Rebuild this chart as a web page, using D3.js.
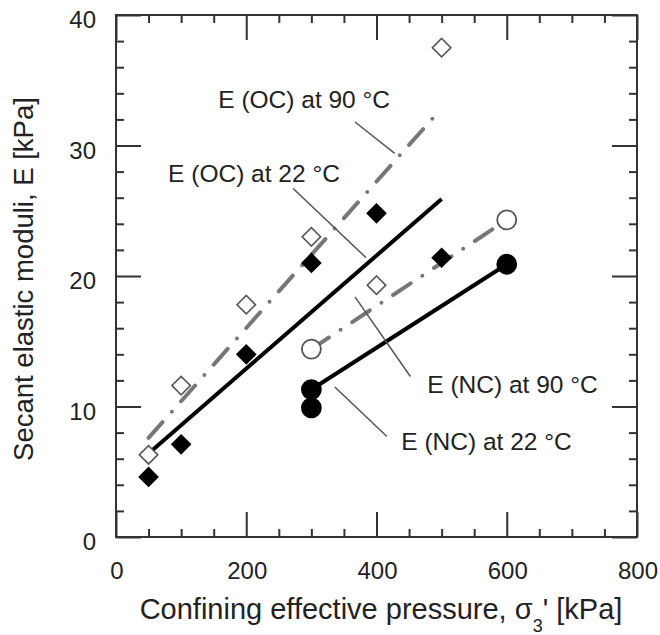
<html>
  <head>
    <script src="https://d3js.org/d3.v7.min.js"></script>
    <style>
      body { margin: 0; background: #fff; }
      svg { font-family: "Liberation Sans", Arial, sans-serif; }
      .tick-label { font-size: 24px; fill: #222; }
      .title { font-size: 27.5px; fill: #222; }
      .note { font-size: 24.5px; fill: #222; }
      .frame { fill: none; stroke: #333; stroke-width: 2; }
      .fit { fill: none; stroke-width: 4; }
      .leader { stroke: #555; stroke-width: 1.5; }
    </style>
  </head>
  <body>
    <div id="root"></div>
  <script>
// tick values
var xMajor = [0, 200, 400, 600, 800];
var xMinor = [50, 100, 150, 250, 300, 350, 450, 500, 550, 650, 700, 750];
var yMajor = [0, 10, 20, 30, 40];
var yMinor = [2, 4, 6, 8, 12, 14, 16, 18, 22, 24, 26, 28, 32, 34, 36, 38];

// OC samples (diamonds)
var pressureOC = [50, 100, 200, 300, 400, 500];
var eOC22 = [4.6, 7.1, 14.0, 21.0, 24.8, 21.4];
var eOC90 = [6.3, 11.6, 17.8, 23.0, 19.3, 37.5];

// NC samples (circles)
var pressureNC22 = [300, 300, 600];
var eNC22 = [11.3, 9.9, 20.9];
var pressureNC90 = [300, 600];
var eNC90 = [14.4, 24.3];

// trend lines [pressure, E]
var fitOC22 = [[50, 6.4], [500, 25.9]];
var fitOC90 = [[50, 7.6], [492, 32.4]];
var fitNC22 = [[300, 11.3], [600, 20.9]];
var fitNC90 = [[300, 14.4], [600, 24.3]];

// labels: text start and leader line, all in data units
var notes = [
  {text: "E (OC) at 90 \u00B0C", at: [157, 32.9], from: [367, 31.8], to: [428, 29.4]},
  {text: "E (OC) at 22 \u00B0C", at: [80, 27.2], from: [272, 26.7], to: [384, 21.4]},
  {text: "E (NC) at 90 \u00B0C", at: [478, 11.0], from: [367, 18.4], to: [452, 12.3]},
  {text: "E (NC) at 22 \u00B0C", at: [438, 6.7], from: [336, 11.5], to: [416, 7.7]}
];

var W = 660, H = 635;
var pL = 116, pR = 637, pT = 15, pB = 537;

var x = d3.scaleLinear().domain([0, 800]).range([pL, pR]);
var y = d3.scaleLinear().domain([0, 40]).range([pB, pT]);

var svg = d3.select("#root").append("svg")
  .attr("width", W)
  .attr("height", H);

svg.append("rect").attr("width", W).attr("height", H).attr("fill", "#fff");

/* ticks pointing inward on all four sides */
function ticks(axis, values, len, transform) {
  var g = svg.append("g")
    .attr("transform", transform)
    .call(axis.tickValues(values).tickSizeInner(-len).tickSizeOuter(0).tickFormat(""));
  g.select(".domain").remove();
  g.selectAll("line").attr("stroke", "#333").attr("stroke-width", 2);
  return g;
}
ticks(d3.axisBottom(x), xMajor, 25, `translate(0,${pB})`);
ticks(d3.axisBottom(x), xMinor, 8, `translate(0,${pB})`);
ticks(d3.axisTop(x), xMajor, 25, `translate(0,${pT})`);
ticks(d3.axisTop(x), xMinor, 8, `translate(0,${pT})`);
ticks(d3.axisLeft(y), yMajor, 25, `translate(${pL},0)`);
ticks(d3.axisLeft(y), yMinor, 8, `translate(${pL},0)`);
ticks(d3.axisRight(y), yMajor, 25, `translate(${pR},0)`);
ticks(d3.axisRight(y), yMinor, 8, `translate(${pR},0)`);

svg.append("rect")
  .attr("class", "frame")
  .attr("x", pL).attr("y", pT)
  .attr("width", pR - pL).attr("height", pB - pT);

/* tick labels */
svg.append("g").selectAll("text")
  .data(xMajor).enter()
  .append("text")
  .attr("class", "tick-label")
  .attr("text-anchor", "middle")
  .attr("x", d => x(d) + 1)
  .attr("y", pB + 42)
  .text(d => d);

svg.append("g").selectAll("text")
  .data(yMajor).enter()
  .append("text")
  .attr("class", "tick-label")
  .attr("text-anchor", "end")
  .attr("x", pL - 20)
  .attr("y", d => y(d) + 13)
  .text(d => d);

/* axis titles */
var xt = svg.append("text")
  .attr("class", "title")
  .style("font-size", "29px")
  .attr("text-anchor", "middle")
  .attr("x", 381)
  .attr("y", 619);
xt.append("tspan").text("Confining effective pressure, \u03C3");
xt.append("tspan").style("font-size", "18px").attr("dy", 13).text("3");
xt.append("tspan").attr("dy", -13).text("' [kPa]");

svg.append("text")
  .attr("class", "title")
  .attr("text-anchor", "middle")
  .attr("transform", "translate(33,279) rotate(-90)")
  .text("Secant elastic moduli, E [kPa]");

/* trend lines */
var line = d3.line()
  .x(d => x(d[0]))
  .y(d => y(d[1]));

var dashDot = "21,14,0,14";
[
  {pts: fitOC22, color: "#000", dash: null},
  {pts: fitNC22, color: "#000", dash: null},
  {pts: fitOC90, color: "#777", dash: dashDot},
  {pts: fitNC90, color: "#777", dash: dashDot}
].forEach(function(f) {
  svg.append("path")
    .attr("class", "fit")
    .attr("d", line(f.pts))
    .attr("stroke", f.color)
    .attr("stroke-linecap", f.dash ? "round" : "butt")
    .attr("stroke-dasharray", f.dash);
});

/* leaders and labels */
svg.append("g").selectAll("line")
  .data(notes).enter()
  .append("line")
  .attr("class", "leader")
  .attr("x1", d => x(d.from[0])).attr("y1", d => y(d.from[1]))
  .attr("x2", d => x(d.to[0])).attr("y2", d => y(d.to[1]));

svg.append("g").selectAll("text")
  .data(notes).enter()
  .append("text")
  .attr("class", "note")
  .attr("x", d => x(d.at[0]))
  .attr("y", d => y(d.at[1]))
  .text(d => d.text);

/* markers */
var diamond = d3.symbol().type(d3.symbolSquare).size(170);

function diamonds(px, py, fill, stroke) {
  svg.append("g").selectAll("path")
    .data(px.map((p, i) => [p, py[i]])).enter()
    .append("path")
    .attr("d", diamond)
    .attr("transform", d => `translate(${x(d[0])},${y(d[1])}) rotate(45)`)
    .attr("fill", fill)
    .attr("stroke", stroke)
    .attr("stroke-width", 1.6);
}
diamonds(pressureOC, eOC90, "#fff", "#555");
diamonds(pressureOC, eOC22, "#000", "#000");

function circles(px, py, fill, stroke) {
  svg.append("g").selectAll("circle")
    .data(px.map((p, i) => [p, py[i]])).enter()
    .append("circle")
    .attr("cx", d => x(d[0]))
    .attr("cy", d => y(d[1]))
    .attr("r", 9.5)
    .attr("fill", fill)
    .attr("stroke", stroke)
    .attr("stroke-width", 1.8);
}
circles(pressureNC90, eNC90, "#fff", "#555");
circles(pressureNC22, eNC22, "#000", "#000");
  </script>
  </body>
</html>
